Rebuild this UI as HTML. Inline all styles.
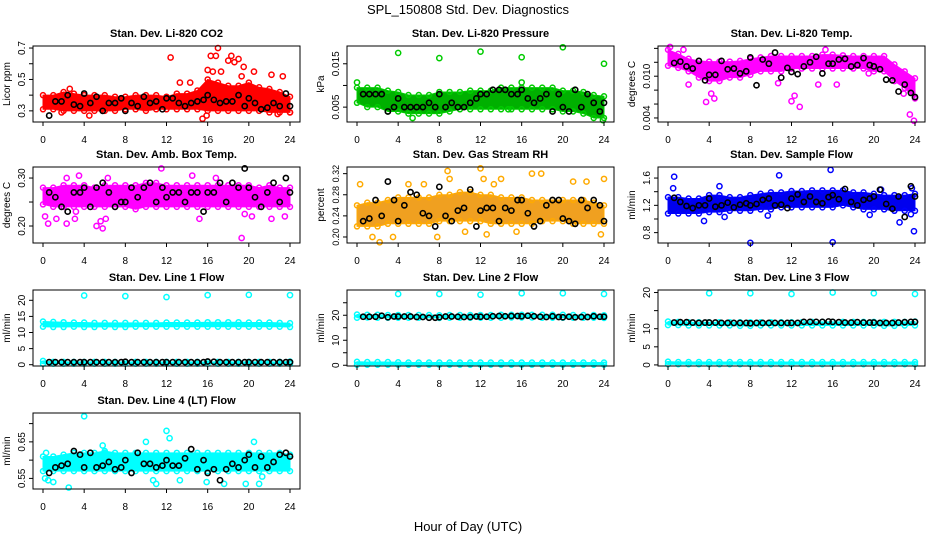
<!DOCTYPE html>
<html><head><meta charset="utf-8"><style>
html,body{margin:0;padding:0;background:#fff;}
svg{display:block;font-family:"Liberation Sans",sans-serif;}
</style></head><body>
<svg id="chart" width="936" height="540" viewBox="0 0 936 540">
<text x="468" y="14" font-size="13" text-anchor="middle">SPL_150808  Std. Dev. Diagnostics</text>
<text x="468" y="531" font-size="13" text-anchor="middle">Hour of Day (UTC)</text>
</svg>
<script>
// shared x categories
const bandHours = [0,1,2,3,4,5,6,7,8,9,10,11,12,13,14,15,16,17,18,19,20,21,22,23,24];
const blackHours = [0.6,1.2,1.8,2.4,3.0,3.6,4.0,4.6,5.2,5.8,6.4,7.0,7.6,8.0,8.6,9.2,9.8,10.4,11.0,11.6,12.0,12.6,13.2,13.8,14.4,15.0,15.6,16.0,16.6,17.2,17.8,18.4,19.0,19.6,20.0,20.6,21.2,21.8,22.4,23.0,23.6,24.0];
const xTicks = [0,4,8,12,16,20,24];

// Panel 1: CO2
const co2Lo = [0.31,0.31,0.30,0.30,0.30,0.30,0.30,0.30,0.31,0.31,0.30,0.31,0.31,0.31,0.31,0.31,0.30,0.30,0.30,0.30,0.30,0.30,0.29,0.29,0.29];
const co2Hi = [0.40,0.40,0.42,0.41,0.40,0.40,0.40,0.39,0.39,0.40,0.40,0.40,0.39,0.41,0.41,0.43,0.50,0.48,0.46,0.46,0.48,0.45,0.44,0.42,0.39];
const co2OutX = [2.6,4.5,12.4,13.3,14.3,15.5,15.9,16,16.3,16.5,16.8,17,17.3,18,18.3,18.6,19,19.3,19.5,20.5,22.2,22.8,23.3,24,5.7,1.8];
const co2OutY = [0.44,0.27,0.64,0.48,0.48,0.25,0.27,0.56,0.65,0.55,0.65,0.70,0.55,0.62,0.65,0.61,0.63,0.52,0.58,0.55,0.53,0.28,0.52,0.29,0.31,0.29];
const co2Black = [0.27,0.36,0.36,0.40,0.34,0.33,0.41,0.35,0.39,0.30,0.35,0.35,0.38,0.30,0.35,0.33,0.39,0.35,0.36,0.31,0.38,0.38,0.35,0.33,0.35,0.36,0.37,0.40,0.37,0.35,0.36,0.36,0.40,0.33,0.38,0.35,0.31,0.32,0.35,0.33,0.41,0.33];
const co2Ticks = [0.3,0.4,0.5,0.6,0.7];
const co2Labels = ["0.3","","0.5","","0.7"];

// Panel 2: Pressure
const presLo = [0.006,0.005,0.005,0.004,0.004,0.0035,0.0035,0.0035,0.0035,0.004,0.0045,0.0045,0.0045,0.0045,0.0045,0.0045,0.0045,0.0045,0.0045,0.0045,0.004,0.004,0.0035,0.0025,0.0025];
const presHi = [0.0095,0.0095,0.0095,0.0088,0.0085,0.0078,0.0078,0.0078,0.0085,0.0085,0.0085,0.0088,0.0088,0.0088,0.0095,0.0095,0.0095,0.0095,0.0095,0.0095,0.0088,0.0088,0.0085,0.0078,0.0075];
const presOutX = [4,8,12,16,20,24,0,16,23.9,5.4,14.7];
const presOutY = [0.0175,0.0163,0.0178,0.0165,0.0188,0.0150,0.0107,0.0107,0.002,0.0025,0.0045];
const presBlack = [0.008,0.008,0.008,0.008,0.004,0.005,0.007,0.005,0.005,0.005,0.005,0.006,0.005,0.008,0.005,0.006,0.005,0.005,0.006,0.007,0.008,0.008,0.009,0.009,0.009,0.008,0.008,0.009,0.007,0.006,0.007,0.008,0.004,0.008,0.005,0.004,0.009,0.005,0.008,0.006,0.004,0.006];
const presTicks = [0.005,0.010,0.015];
const presLabels = ["0.005","","0.015"];

// Panel 3: Li-820 Temp
const ltLo = [0.0115,0.0112,0.0107,0.0098,0.0093,0.0093,0.0098,0.0098,0.0102,0.0107,0.0107,0.0107,0.0111,0.0111,0.0111,0.0111,0.0111,0.0111,0.0111,0.0111,0.0107,0.0107,0.0093,0.0083,0.0068];
const ltHi = [0.0138,0.0132,0.0125,0.0122,0.0121,0.0121,0.0121,0.0122,0.0125,0.0127,0.0129,0.0129,0.0129,0.0129,0.0129,0.0131,0.0131,0.013,0.0129,0.0129,0.0129,0.0129,0.0117,0.0107,0.0097];
const ltOutX = [0.2,1.5,3.7,4.2,4.5,12,12.3,12.8,15.3,19.5,23.5,23.9,2.0,10.7,14.6,16.4,22.9];
const ltOutY = [0.0142,0.0138,0.0063,0.0075,0.0068,0.0064,0.0072,0.0056,0.0138,0.0104,0.0045,0.0036,0.0088,0.0090,0.0088,0.0088,0.0075];
const ltBlack = [0.0119,0.0121,0.0114,0.0111,0.0122,0.0094,0.0102,0.0102,0.0122,0.0110,0.0111,0.0104,0.0107,0.0127,0.0087,0.0124,0.0118,0.0134,0.0098,0.0112,0.0106,0.0103,0.0114,0.0120,0.0128,0.0104,0.0118,0.0118,0.0124,0.0125,0.0114,0.0116,0.0126,0.0116,0.0114,0.0110,0.0095,0.0094,0.0078,0.0088,0.0076,0.0070];
const ltTicks = [0.004,0.006,0.008,0.010,0.012,0.014];
const ltLabels = ["0.004","","","0.010","",""];

// Panel 4: Amb box temp
const abLo = [0.245,0.24,0.24,0.24,0.24,0.24,0.24,0.24,0.24,0.235,0.24,0.24,0.24,0.24,0.24,0.24,0.24,0.24,0.24,0.24,0.24,0.24,0.24,0.24,0.24];
const abHi = [0.28,0.28,0.285,0.285,0.285,0.28,0.285,0.285,0.285,0.285,0.29,0.29,0.285,0.285,0.285,0.285,0.285,0.285,0.285,0.285,0.285,0.28,0.285,0.28,0.28];
const abOutX = [0.2,0.5,1.3,2.3,3.1,3.5,5.2,5.6,5.8,6.1,6.3,11.5,14.5,15.2,19.3,19.6,20.3,22.2,23.5,3.2,2.3,16.8];
const abOutY = [0.22,0.205,0.215,0.205,0.215,0.305,0.20,0.21,0.195,0.215,0.30,0.32,0.305,0.215,0.175,0.225,0.22,0.215,0.22,0.23,0.30,0.30];
const abBlack = [0.27,0.26,0.24,0.23,0.27,0.27,0.28,0.24,0.28,0.29,0.27,0.24,0.25,0.25,0.28,0.26,0.28,0.29,0.25,0.28,0.26,0.27,0.27,0.25,0.27,0.27,0.23,0.27,0.27,0.29,0.25,0.29,0.28,0.32,0.28,0.26,0.24,0.27,0.29,0.25,0.30,0.27];
const abTicks = [0.20,0.25,0.30];
const abLabels = ["0.20","","0.30"];

// Panel 5: Gas stream RH
const rhLo = [0.22,0.22,0.22,0.225,0.225,0.225,0.225,0.225,0.23,0.23,0.23,0.23,0.23,0.225,0.225,0.225,0.225,0.225,0.23,0.23,0.23,0.225,0.225,0.225,0.225];
const rhHi = [0.26,0.265,0.265,0.27,0.275,0.275,0.275,0.275,0.28,0.28,0.285,0.285,0.28,0.28,0.275,0.275,0.275,0.27,0.27,0.27,0.27,0.27,0.27,0.265,0.26];
const rhOutX = [0.3,1.5,2.2,3.5,5,6.5,7.8,8.8,9,12,12.3,12.6,13.3,14,15.5,17,17.9,21,22.3,23.7,24,10.5];
const rhOutY = [0.30,0.20,0.19,0.20,0.30,0.30,0.20,0.325,0.31,0.33,0.31,0.205,0.30,0.31,0.21,0.32,0.32,0.305,0.305,0.205,0.31,0.21];
const rhBlack = [0.23,0.235,0.27,0.24,0.305,0.27,0.23,0.26,0.285,0.28,0.245,0.24,0.22,0.295,0.24,0.23,0.25,0.255,0.29,0.22,0.25,0.255,0.255,0.23,0.255,0.25,0.27,0.27,0.245,0.22,0.23,0.26,0.27,0.27,0.235,0.23,0.225,0.27,0.255,0.27,0.26,0.23];
const rhTicks = [0.20,0.24,0.28,0.32];
const rhLabels = ["0.20","0.24","0.28","0.32"];

// Panel 6: Sample flow
const sfLo = [1.08,1.08,1.08,1.08,1.1,1.1,1.12,1.12,1.12,1.14,1.14,1.17,1.17,1.17,1.17,1.17,1.17,1.2,1.17,1.14,1.14,1.14,1.12,1.12,1.12];
const sfHi = [1.32,1.32,1.3,1.3,1.35,1.35,1.32,1.32,1.35,1.37,1.39,1.39,1.41,1.41,1.42,1.42,1.42,1.42,1.39,1.39,1.37,1.35,1.35,1.35,1.37];
const sfOutX = [0.6,0.5,3.5,5,5.5,8,9.7,10.8,15.8,16,19.6,22.5,23.6,23.9,23.7,20.7];
const sfOutY = [1.62,1.45,0.97,1.48,1.03,0.65,1.05,1.64,1.72,0.66,1.06,0.95,1.07,0.82,1.45,1.43];
const sfBlack = [1.31,1.25,1.19,1.16,1.20,1.20,1.30,1.18,1.20,1.24,1.17,1.21,1.23,1.20,1.22,1.28,1.30,1.20,1.21,1.16,1.30,1.36,1.25,1.33,1.25,1.23,1.32,1.35,1.29,1.44,1.25,1.20,1.28,1.30,1.33,1.43,1.22,1.15,1.33,1.03,1.48,1.33];
const sfTicks = [0.8,1.0,1.2,1.4,1.6];
const sfLabels = ["0.8","","1.2","","1.6"];

// Panel 7: Line 1 flow
const l1Lo = [11.8,11.7,11.7,11.8,11.7,11.7,11.8,11.7,11.7,11.8,11.8,11.8,11.8,11.8,11.8,11.8,11.8,11.8,11.8,11.8,11.8,11.8,11.8,11.8,11.7];
const l1Hi = [13.4,13.3,13.2,13.1,13.1,13.0,13.0,13.0,13.0,13.0,13.0,13.0,13.1,13.1,13.1,13.1,13.2,13.2,13.2,13.2,13.1,13.1,13.1,13.0,12.9];
const l1Lo2 = [0.3,0.3,0.3,0.3,0.3,0.3,0.3,0.3,0.3,0.3,0.3,0.3,0.3,0.3,0.3,0.3,0.3,0.3,0.3,0.3,0.3,0.3,0.3,0.3,0.3];
const l1Hi2 = [1.2,0.9,0.9,0.9,0.9,0.9,0.9,0.9,0.9,0.9,0.9,0.9,0.9,0.9,0.9,0.9,0.9,0.9,0.9,0.9,0.9,0.9,0.9,0.9,1.0];
const l1OutX = [4,8,12,16,20,24];
const l1OutY = [21.5,21.3,21.0,21.6,21.7,21.6];
const l1Black = [0.8,0.8,0.8,0.8,0.8,0.8,0.8,0.8,0.8,0.8,0.8,0.8,0.8,0.9,0.8,0.8,0.8,0.8,0.8,0.8,0.8,0.8,0.8,0.8,0.8,0.8,0.8,1.0,0.9,0.8,0.8,0.8,0.8,0.8,0.8,0.8,0.8,0.8,0.8,0.8,0.8,0.8];
const l1Ticks = [0,5,10,15,20];
const l1Labels = ["0","5","10","15","20"];

// Panel 8: Line 2 flow
const l2Lo = [19.0,19.1,19.0,19.0,19.0,19.0,19.0,19.0,18.9,19.0,19.0,19.0,19.0,19.0,19.0,19.1,19.1,19.1,19.0,19.0,19.0,19.0,19.0,19.0,18.9];
const l2Hi = [20.3,20.2,20.2,20.1,20.1,20.1,20.1,20.1,20.0,20.1,20.1,20.1,20.1,20.1,20.2,20.2,20.2,20.2,20.2,20.2,20.2,20.1,20.1,20.1,20.0];
const l2Lo2 = [0.2,0.2,0.2,0.2,0.2,0.2,0.2,0.2,0.2,0.2,0.2,0.2,0.2,0.2,0.2,0.2,0.2,0.2,0.2,0.2,0.2,0.2,0.2,0.2,0.2];
const l2Hi2 = [1.4,1.3,1.3,1.3,1.2,1.1,1.1,1.1,1.1,1.1,1.1,1.1,1.1,1.1,1.1,1.1,1.1,1.1,1.1,1.1,1.1,1.1,1.1,1.1,1.1];
const l2OutX = [4,8,12,16,20,24];
const l2OutY = [28.5,28.5,28.2,28.8,28.8,28.5];
const l2Black = [19.4,19.4,19.4,19.8,19.2,19.5,19.5,19.5,19.5,19.3,19.3,19.0,19.0,19.2,19.5,19.5,19.4,19.3,19.3,19.5,19.4,19.4,19.6,19.7,19.6,19.7,19.7,19.6,19.8,19.6,19.4,19.3,19.6,19.3,19.2,19.4,19.2,19.3,19.3,19.6,19.4,19.4];
const l2Ticks = [0,5,10,15,20,25];
const l2Labels = ["0","","10","","20",""];

// Panel 9: Line 3 flow
const l3Lo = [11.0,11.0,10.9,10.9,10.9,10.9,10.9,10.8,10.8,10.9,10.9,10.9,10.9,10.9,10.9,10.9,10.9,10.9,10.9,10.9,10.9,10.8,10.8,10.9,10.9];
const l3Hi = [12.0,11.9,11.8,11.8,11.8,11.8,11.8,11.8,11.8,11.8,11.8,11.8,11.8,11.8,11.9,11.9,11.9,11.9,11.9,11.9,11.9,11.9,11.9,11.9,12.0];
const l3Lo2 = [0.2,0.2,0.2,0.2,0.2,0.2,0.2,0.2,0.2,0.2,0.2,0.2,0.2,0.2,0.2,0.2,0.2,0.2,0.2,0.2,0.2,0.2,0.2,0.2,0.2];
const l3Hi2 = [0.9,0.8,0.8,0.8,0.8,0.8,0.8,0.8,0.8,0.8,0.8,0.8,0.8,0.8,0.8,0.8,0.8,0.8,0.8,0.8,0.8,0.8,0.8,0.8,0.8];
const l3OutX = [4,8,12,16,20,24];
const l3OutY = [19.8,19.8,19.6,20.0,19.8,19.6];
const l3Black = [11.7,11.8,11.8,11.7,11.6,11.7,11.7,11.7,11.6,11.6,11.6,11.6,11.6,11.5,11.6,11.6,11.6,11.6,11.6,11.6,11.6,11.6,11.9,11.9,11.9,11.9,12.0,11.9,11.8,11.7,11.7,11.8,11.7,11.7,11.7,11.6,11.6,11.6,11.7,11.8,11.9,11.9];
const l3Ticks = [0,5,10,15,20];
const l3Labels = ["0","5","10","","20"];

// Panel 10: Line 4 (LT) flow
const l4Lo = [0.57,0.57,0.57,0.57,0.57,0.57,0.57,0.57,0.57,0.57,0.57,0.57,0.57,0.57,0.57,0.57,0.57,0.57,0.57,0.57,0.57,0.57,0.57,0.57,0.57];
const l4Hi = [0.61,0.61,0.615,0.62,0.62,0.62,0.625,0.62,0.62,0.62,0.62,0.62,0.62,0.62,0.62,0.62,0.62,0.62,0.62,0.62,0.62,0.62,0.62,0.62,0.615];
const l4OutX = [0.2,0.5,1,2.5,4,6,10.7,11,12,12.3,13.3,17.6,19.7,21,21.3,15.9,0.3,20.5,10,5.8];
const l4OutY = [0.55,0.545,0.54,0.525,0.72,0.62,0.545,0.535,0.68,0.66,0.545,0.535,0.535,0.535,0.555,0.54,0.62,0.65,0.65,0.64];
const l4Black = [0.565,0.58,0.585,0.59,0.625,0.615,0.58,0.62,0.58,0.585,0.595,0.575,0.58,0.60,0.565,0.62,0.59,0.59,0.58,0.585,0.60,0.585,0.585,0.605,0.63,0.575,0.60,0.565,0.575,0.545,0.575,0.59,0.58,0.60,0.615,0.58,0.61,0.58,0.595,0.615,0.62,0.61];
const l4Ticks = [0.55,0.60,0.65,0.70];
const l4Labels = ["0.55","","0.65",""];

const NS = "http://www.w3.org/2000/svg";
const svg = document.getElementById('chart');
function mk(tag, attrs, parent){
  const e = document.createElementNS(NS, tag);
  for (const k in attrs) e.setAttribute(k, attrs[k]);
  (parent||svg).appendChild(e);
  return e;
}
function panel(o){
  const g = mk('g', {});
  
  
  const L=o.x, T=o.y, W=o.w, H=o.h;
  const sx = v => L + 10 + v/24*(W-20);
  const sy = v => T + H - (v - o.ymin)/(o.ymax - o.ymin)*H;
  const title = mk('text', {x:L+W/2, y:T-9, 'font-size':11, 'font-weight':'bold', 'text-anchor':'middle'}, g);
  title.textContent = o.title;
  
  
  const clip = mk('g', {}, g);
  o.bands.forEach(b => {
    let pts = bandHours.map((h,i)=>sx(h)+','+sy(b.hi[i]));
    pts = pts.concat(bandHours.map((h,i)=>sx(h)+','+sy(b.lo[i])).reverse());
    const p = mk('polygon', {points: pts.join(' '), fill: b.fill, stroke: o.color, 'stroke-width':1, 'stroke-linejoin':'round'}, clip);
    
    
    bandHours.forEach((h,i)=>{
      [b.lo[i], b.hi[i]].forEach(v=>{
        const c = mk('circle', {cx:sx(h), cy:sy(v), r:2.5, fill:'none', stroke:o.color, 'stroke-width':1.5}, clip);
        
        
      });
    });
  });
  o.outX.forEach((xv,i)=>{
    const c = mk('circle', {cx:sx(xv), cy:sy(o.outY[i]), r:2.6, fill:'none', stroke:o.outColor||o.color, 'stroke-width':1.5}, clip);
    
    
  });
  blackHours.forEach((xv,i)=>{
    const c = mk('circle', {cx:sx(xv), cy:sy(o.black[i]), r:2.6, fill:'none', stroke:'#000', 'stroke-width':1.6}, clip);
    
    
  });
  const box = mk('rect', {x:L, y:T, width:W, height:H, fill:'none', stroke:'#000', 'stroke-width':1}, g);
  
  
  xTicks.forEach(t=>{
    mk('line', {x1:sx(t), x2:sx(t), y1:T+H, y2:T+H+4, stroke:'#000'}, g);
    const tx = mk('text', {x:sx(t), y:T+H+21, 'font-size':10, 'text-anchor':'middle'}, g);
    tx.textContent = t;
    
    
  });
  o.ticks.forEach((t,i)=>{
    const yy = sy(t);
    mk('line', {x1:L-4, x2:L, y1:yy, y2:yy, stroke:'#000'}, g);
    if (o.labels[i]) {
      const ty = mk('text', {x:0, y:0, 'font-size':o.labSize||10, 'text-anchor':'middle', transform:'translate('+(L-8)+','+yy+') rotate(-90)'}, g);
      ty.textContent = o.labels[i];
      
      
    }
  });
  const yt = mk('text', {x:0, y:0, 'font-size':10, 'text-anchor':'middle', transform:'translate('+(L-23)+','+(T+H/2)+') rotate(-90)'}, g);
  yt.textContent = o.ylab;
  
  
}
const C = [33, 347, 658], R = [46, 167, 290, 413], PW = 267, PH = 76;
panel({name:'panel-li820-co2', title:'Stan. Dev. Li-820 CO2', ylab:'Licor ppm', x:C[0], y:R[0], w:PW, h:PH, ymin:0.229, ymax:0.713, color:'#ff0000', bands:[{lo:co2Lo, hi:co2Hi, fill:'#ff0000'}], outX:co2OutX, outY:co2OutY, black:co2Black, ticks:co2Ticks, labels:co2Labels});
panel({name:'panel-li820-pressure', title:'Stan. Dev. Li-820 Pressure', ylab:'kPa', x:C[1], y:R[0], w:PW, h:PH, ymin:0.00157, ymax:0.0191, color:'#00cc00', bands:[{lo:presLo, hi:presHi, fill:'#00b000'}], outX:presOutX, outY:presOutY, black:presBlack, ticks:presTicks, labels:presLabels});
panel({name:'panel-li820-temp', title:'Stan. Dev. Li-820 Temp.', ylab:'degrees C', x:C[2], y:R[0], w:PW, h:PH, ymin:0.00342, ymax:0.01434, color:'#ff00ff', bands:[{lo:ltLo, hi:ltHi, fill:'#ff00ff'}], outX:ltOutX, outY:ltOutY, black:ltBlack, ticks:ltTicks, labels:ltLabels});
panel({name:'panel-amb-box-temp', title:'Stan. Dev. Amb. Box Temp.', ylab:'degrees C', x:C[0], y:R[1], w:PW, h:PH, ymin:0.1646, ymax:0.323, color:'#ff00ff', bands:[{lo:abLo, hi:abHi, fill:'#ff00ff'}], outX:abOutX, outY:abOutY, black:abBlack, ticks:abTicks, labels:abLabels});
panel({name:'panel-gas-stream-rh', title:'Stan. Dev. Gas Stream RH', ylab:'percent', x:C[1], y:R[1], w:PW, h:PH, ymin:0.1886, ymax:0.3326, color:'#ffaa00', outColor:'#ffaa00', labSize:9, bands:[{lo:rhLo, hi:rhHi, fill:'#f0a020'}], outX:rhOutX, outY:rhOutY, black:rhBlack, ticks:rhTicks, labels:rhLabels});
panel({name:'panel-sample-flow', title:'Stan. Dev. Sample Flow', ylab:'ml/min', x:C[2], y:R[1], w:PW, h:PH, ymin:0.648, ymax:1.762, color:'#0000ff', bands:[{lo:sfLo, hi:sfHi, fill:'#0000ee'}], outX:sfOutX, outY:sfOutY, black:sfBlack, ticks:sfTicks, labels:sfLabels});
panel({name:'panel-line1-flow', title:'Stan. Dev. Line 1 Flow', ylab:'ml/min', x:C[0], y:R[2], w:PW, h:PH, ymin:-0.4, ymax:23.2, color:'#00ffff', bands:[{lo:l1Lo, hi:l1Hi, fill:'#00ffff'},{lo:l1Lo2, hi:l1Hi2, fill:'#00ffff'}], outX:l1OutX, outY:l1OutY, black:l1Black, ticks:l1Ticks, labels:l1Labels});
panel({name:'panel-line2-flow', title:'Stan. Dev. Line 2 Flow', ylab:'ml/min', x:C[1], y:R[2], w:PW, h:PH, ymin:-0.3, ymax:30.1, color:'#00ffff', bands:[{lo:l2Lo, hi:l2Hi, fill:'#00ffff'},{lo:l2Lo2, hi:l2Hi2, fill:'#00ffff'}], outX:l2OutX, outY:l2OutY, black:l2Black, ticks:l2Ticks, labels:l2Labels});
panel({name:'panel-line3-flow', title:'Stan. Dev. Line 3 Flow', ylab:'ml/min', x:C[2], y:R[2], w:PW, h:PH, ymin:-0.3, ymax:20.7, color:'#00ffff', bands:[{lo:l3Lo, hi:l3Hi, fill:'#00ffff'},{lo:l3Lo2, hi:l3Hi2, fill:'#00ffff'}], outX:l3OutX, outY:l3OutY, black:l3Black, ticks:l3Ticks, labels:l3Labels});
panel({name:'panel-line4-lt-flow', title:'Stan. Dev. Line 4 (LT) Flow', ylab:'ml/min', x:C[0], y:R[3], w:PW, h:PH, ymin:0.521, ymax:0.729, color:'#00ffff', bands:[{lo:l4Lo, hi:l4Hi, fill:'#00ffff'}], outX:l4OutX, outY:l4OutY, black:l4Black, ticks:l4Ticks, labels:l4Labels});
</script>
</body></html>
